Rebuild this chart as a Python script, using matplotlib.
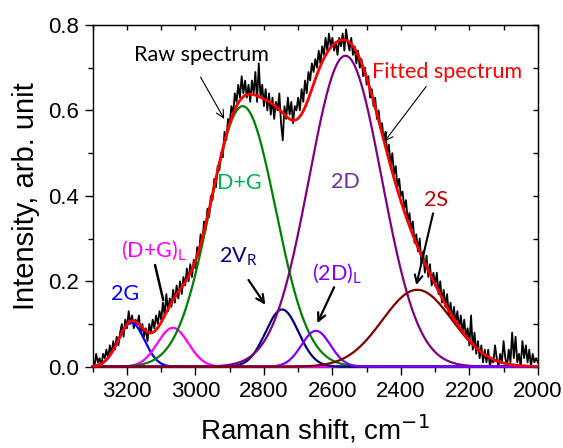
import numpy as np
import matplotlib
matplotlib.use("Agg")
import matplotlib.pyplot as plt
from matplotlib.ticker import MultipleLocator

# ---------------- data ----------------
# raw spectrum, Raman shift 3300 -> 2000 cm-1 in 5 cm-1 steps
raw_shift_start = 3300
raw_shift_step = -5
raw_intensity = [
    0.02, 0.00, 0.03, 0.01, 0.02, 0.00, 0.03, 0.02, 0.04, 0.02,
    0.05, 0.03, 0.06, 0.04, 0.07, 0.05, 0.08, 0.10, 0.07, 0.11,
    0.09, 0.13, 0.10, 0.12, 0.09, 0.11, 0.10, 0.12, 0.08, 0.10,
    0.07, 0.09, 0.06, 0.10, 0.08, 0.11, 0.09, 0.12, 0.10, 0.13,
    0.11, 0.15, 0.12, 0.17, 0.13, 0.16, 0.14, 0.18, 0.15, 0.19,
    0.16, 0.20, 0.17, 0.21, 0.19, 0.23, 0.20, 0.24, 0.21, 0.25,
    0.23, 0.28, 0.26, 0.31, 0.29, 0.34, 0.32, 0.37, 0.35, 0.40,
    0.39, 0.44, 0.42, 0.47, 0.46, 0.50, 0.49, 0.55, 0.53, 0.58,
    0.57, 0.61, 0.59, 0.64, 0.62, 0.66, 0.63, 0.68, 0.64, 0.67,
    0.63, 0.66, 0.62, 0.67, 0.64, 0.69, 0.62, 0.71, 0.63, 0.66,
    0.61, 0.65, 0.60, 0.64, 0.59, 0.63, 0.58, 0.62, 0.60, 0.64,
    0.57, 0.53, 0.61, 0.58, 0.63, 0.59, 0.62, 0.57, 0.61, 0.60,
    0.63, 0.60, 0.65, 0.62, 0.67, 0.64, 0.69, 0.67, 0.71, 0.69,
    0.72, 0.70, 0.74, 0.71, 0.75, 0.73, 0.77, 0.74, 0.78, 0.75,
    0.77, 0.74, 0.76, 0.73, 0.77, 0.75, 0.78, 0.74, 0.79, 0.76,
    0.74, 0.77, 0.73, 0.75, 0.71, 0.74, 0.70, 0.72, 0.68, 0.70,
    0.66, 0.68, 0.63, 0.65, 0.61, 0.63, 0.58, 0.60, 0.56, 0.57,
    0.53, 0.55, 0.50, 0.52, 0.47, 0.50, 0.45, 0.47, 0.42, 0.44,
    0.40, 0.41, 0.37, 0.39, 0.34, 0.36, 0.32, 0.34, 0.29, 0.31,
    0.27, 0.30, 0.24, 0.27, 0.22, 0.26, 0.21, 0.24, 0.19, 0.22,
    0.19, 0.22, 0.17, 0.20, 0.15, 0.18, 0.14, 0.17, 0.12, 0.15,
    0.11, 0.14, 0.10, 0.13, 0.09, 0.12, 0.08, 0.11, 0.07, 0.09,
    0.05, 0.12, 0.04, 0.08, 0.03, 0.06, 0.02, 0.05, 0.01, 0.04,
    0.01, 0.04, 0.00, 0.02, 0.01, 0.05, 0.02, 0.00, 0.03, 0.01,
    0.06, 0.02, 0.00, 0.04, 0.01, 0.08, 0.02, 0.07, 0.01, 0.03,
    0.00, 0.06, 0.02, 0.05, 0.01, 0.04, 0.00, 0.03, 0.01, 0.02,
    0.01,
]

# fitted Gaussian components (peak parameters)
peak_names = ["2G", "(D+G)L", "D+G", "2VR", "2D", "(2D)L", "2S"]
peak_centers = [3187, 3066, 2862, 2747, 2562, 2648, 2352]
peak_heights = [0.103, 0.091, 0.610, 0.134, 0.728, 0.084, 0.180]
peak_sigmas = [38, 45, 96, 48, 106, 42, 102]
peak_colors = ["#0000FF", "#FF00FF", "#008000", "#000080", "#800080", "#8000FF", "#800000"]

x_ticks = [3200, 3000, 2800, 2600, 2400, 2200, 2000]
y_ticks = [0.0, 0.2, 0.4, 0.6, 0.8]

# ---------------- figure ----------------
fig = plt.figure(figsize=(5.63, 4.48), dpi=100)
ax = fig.add_axes([0.1647, 0.1815, 0.7906, 0.7627])

raw_x = raw_shift_start + raw_shift_step * np.arange(len(raw_intensity))
ax.plot(raw_x, raw_intensity, color="black", lw=1.3, zorder=2)

xs = np.linspace(3300, 2000, 1301)
total = np.zeros_like(xs)
for c, h, s, col in zip(peak_centers, peak_heights, peak_sigmas, peak_colors):
    y = h * np.exp(-0.5 * ((xs - c) / s) ** 2)
    total += y
    ax.plot(xs, y, color=col, lw=1.6, zorder=3, clip_on=False)
ax.plot(xs, total, color="#FF0000", lw=2.0, zorder=4)

ax.set_xlim(3300, 2000)
ax.set_ylim(0, 0.8)
ax.set_xticks(x_ticks)
ax.set_yticks(y_ticks)
ax.xaxis.set_minor_locator(MultipleLocator(100))
ax.yaxis.set_minor_locator(MultipleLocator(0.1))
ax.set_yticklabels([f"{v:.1f}" for v in y_ticks])
tick_font = "Liberation Sans"
for lab in ax.get_xticklabels() + ax.get_yticklabels():
    lab.set_fontfamily(tick_font)
    lab.set_fontsize(16)
ax.tick_params(which="major", direction="out", length=6, width=1, pad=4)
ax.tick_params(which="minor", direction="out", length=3.5, width=1)
for sp in ax.spines.values():
    sp.set_linewidth(1.0)

secx = ax.secondary_xaxis("top")
secx.set_xticks(list(range(2000, 3301, 100)))
secx.tick_params(direction="in", length=3.5, width=1, labeltop=False)
secy = ax.secondary_yaxis("right")
secy.set_yticks([i / 10 for i in range(0, 9)])
secy.tick_params(direction="in", length=3.5, width=1, labelright=False)

ax.set_xlabel("Raman shift, cm$^{-1}$", fontfamily=tick_font, fontsize=20, labelpad=8)
ax.set_ylabel("Intensity, arb. unit", fontfamily=tick_font, fontsize=21, labelpad=6)

ann_font = "Lato"
fs = 15.5

def label(text, x, y, color):
    ax.text(x, y, text, color=color, fontsize=fs, fontfamily=ann_font,
            ha="center", va="center", zorder=6)

def arrow(x0, y0, x1, y1, lw=1.5, head=True):
    style = "->" if head else "-"
    ax.annotate("", xy=(x1, y1), xytext=(x0, y0),
                arrowprops=dict(arrowstyle=style, color="black", lw=lw,
                                shrinkA=0, shrinkB=0, mutation_scale=14),
                zorder=6)

label("Raw spectrum", 2983, 0.730, "black")
arrow(2985, 0.678, 2916, 0.580, lw=0.8)
label("Fitted spectrum", 2264, 0.691, "#FF0000")
arrow(2326, 0.656, 2448, 0.527, lw=0.8)
label("D+G", 2873, 0.431, "#00B050")
label("2D", 2563, 0.433, "#7030A0")
label("2S", 2298, 0.390, "#C00000")
arrow(2306, 0.359, 2355, 0.191, lw=1.5)
label("2G", 3205, 0.170, "#0000FF")
label("(D+G)$_\\mathregular{L}$", 3122, 0.270, "#FF00FF")
arrow(3118, 0.238, 3094, 0.156, lw=1.8, head=False)
label("2V$_\\mathregular{R}$", 2874, 0.258, "#000080")
arrow(2845, 0.203, 2796, 0.145, lw=1.6)
label("(2D)$_\\mathregular{L}$", 2588, 0.218, "#8000FF")
arrow(2595, 0.186, 2644, 0.102, lw=1.6)

fig.savefig("out.png", dpi=100)
